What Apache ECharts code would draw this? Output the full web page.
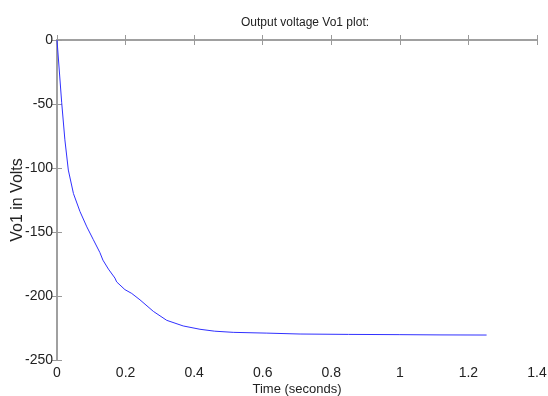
<!DOCTYPE html>
<html>
<head>
<meta charset="utf-8">
<script src="https://cdn.jsdelivr.net/npm/echarts@6/dist/echarts.min.js"></script>
<style>
  html, body {margin: 0; padding: 0; background: #fff;}
  #main {width: 548px; height: 396px;}
</style>
</head>
<body>
<div id="main"></div>
<script>
// time (s) and Vo1 (V)
const timeSec = [0, 0.0137, 0.023, 0.033, 0.048, 0.067, 0.087, 0.106, 0.125, 0.134, 0.150, 0.169, 0.174, 0.198, 0.218, 0.242, 0.281, 0.32, 0.368, 0.417, 0.46, 0.514, 0.612, 0.709, 0.85, 1.0, 1.12, 1.253];
const vo1 = [0, -49, -78, -101.6, -120, -134, -146, -156, -166, -172, -179, -186, -189, -195, -198, -203, -212, -219, -223.4, -226, -227.5, -228.4, -229, -229.7, -230, -230.2, -230.4, -230.5];
const xTicks = [0, 0.2, 0.4, 0.6, 0.8, 1, 1.2, 1.4];
const yTicks = [0, -50, -100, -150, -200, -250];

const points = timeSec.map((t, i) => [t, vo1[i]]);

const axisGrey = '#9a9a9a';
const fontFam = 'Liberation Sans, Arial, sans-serif';
const labelStyle = {color: '#222', fontSize: 14, fontFamily: fontFam};

const myChart = echarts.init(document.getElementById('main'));
const option = {
  animation: false,
  backgroundColor: '#fff',
  title: {
    text: 'Output voltage Vo1 plot:',
    left: 300,
    textAlign: 'center',
    top: 12,
    textStyle: {fontSize: 12, fontWeight: 'normal', color: '#222', fontFamily: fontFam},
  },
  grid: {left: 57, right: 11, top: 40, bottom: 36, containLabel: false, outerBoundsMode: 'none'},
  xAxis: [
    {
      type: 'value',
      min: 0,
      max: 1.4,
      interval: 0.2,
      name: 'Time (seconds)',
      nameLocation: 'middle',
      nameGap: 23,
      nameMoveOverlap: false,
      nameTextStyle: {color: '#222', fontSize: 13, fontFamily: fontFam},
      axisLine: {show: true, lineStyle: {color: axisGrey, width: 1.5}},
      axisTick: {show: true, inside: true, length: 5, lineStyle: {color: axisGrey}},
      axisLabel: Object.assign({margin: 6, formatter: v => String(+v.toFixed(1))}, labelStyle),
      splitLine: {show: false},
    },
    {
      type: 'value',
      position: 'top',
      min: 0,
      max: 1.4,
      interval: 0.2,
      axisLine: {show: true, lineStyle: {color: axisGrey, width: 1.5}},
      axisTick: {show: true, inside: true, length: 5, lineStyle: {color: axisGrey}},
      axisLabel: {show: false},
      splitLine: {show: false},
    },
  ],
  yAxis: [
    {
      type: 'value',
      min: -250,
      max: 0,
      interval: 50,
      name: 'Vo1 in Volts',
      nameLocation: 'middle',
      nameGap: 31,
      nameMoveOverlap: false,
      nameTextStyle: {color: '#222', fontSize: 16, fontFamily: fontFam},
      axisLine: {show: true, lineStyle: {color: axisGrey, width: 1.5}},
      axisTick: {show: true, inside: true, length: 5, lineStyle: {color: axisGrey}},
      axisLabel: Object.assign({margin: 4}, labelStyle),
      splitLine: {show: false},
    },
    {
      type: 'value',
      position: 'right',
      min: -250,
      max: 0,
      interval: 50,
      axisLine: {show: true, lineStyle: {color: axisGrey, width: 1.5}},
      axisTick: {show: true, inside: true, length: 5, lineStyle: {color: axisGrey}},
      axisLabel: {show: false},
      splitLine: {show: false},
    },
  ],
  series: [
    {
      type: 'line',
      data: points,
      showSymbol: false,
      smooth: false,
      lineStyle: {color: '#3030ff', width: 1},
      itemStyle: {color: '#3030ff'},
    },
  ],
};
myChart.setOption(option);
</script>
</body>
</html>
